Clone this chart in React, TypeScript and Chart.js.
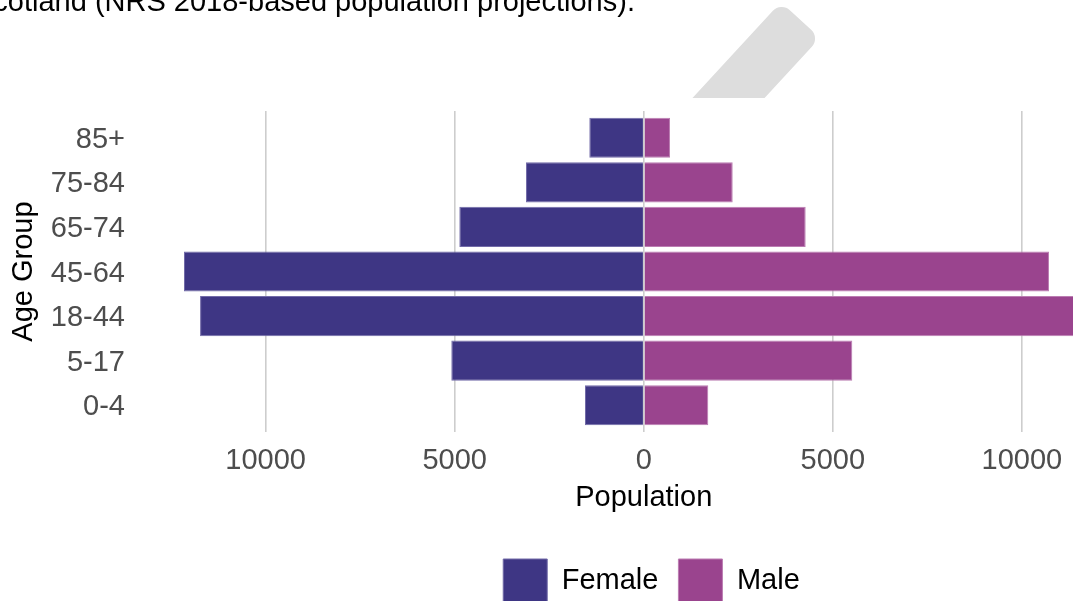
import React, { useEffect, useRef } from "react";
import { Chart, registerables } from "chart.js";

Chart.register(...registerables);

// ---- data ----
const ageGroups = ["0-4", "5-17", "18-44", "45-64", "65-74", "75-84", "85+"];
const femaleValues = [1554, 5090, 11735, 12160, 4878, 3114, 1440];
const maleValues = [1707, 5516, 11600, 10718, 4283, 2353, 694];
const seriesNames = ["Female", "Male"];
const xTickValues = [-10000, -5000, 0, 5000, 10000];
const xAxisLabel = "Population";
const yAxisLabel = "Age Group";
const titleText = "Scotland (NRS 2018-based population projections).";

const FEMALE_COLOR = "#3E3684";
const MALE_COLOR = "#9A448E";
const FONT = "'Liberation Sans', Arial, Helvetica, sans-serif";

export default function App() {
  const canvasRef = useRef<HTMLCanvasElement | null>(null);

  useEffect(() => {
    const canvas = canvasRef.current;
    if (!canvas) return;
    Chart.defaults.font.family = FONT;
    const chart = new Chart(canvas, {
      type: "bar",
      data: {
        labels: ageGroups,
        datasets: [
          {
            label: seriesNames[0],
            data: femaleValues.map((v) => -v),
            backgroundColor: FEMALE_COLOR,
            borderColor: "#726BA8",
            borderWidth: 1,
          },
          {
            label: seriesNames[1],
            data: maleValues,
            backgroundColor: MALE_COLOR,
            borderColor: "#BB7DB2",
            borderWidth: 1,
          },
        ],
      },
      options: {
        indexAxis: "y",
        animation: false,
        responsive: false,
        maintainAspectRatio: false,
        layout: { padding: { top: 111, left: 0, right: 0, bottom: 0 } },
        datasets: { bar: { categoryPercentage: 1, barPercentage: 0.9 } },
        scales: {
          x: {
            type: "linear",
            stacked: true,
            min: -13350,
            max: 13350,
            grid: { color: "#CDCDCD", lineWidth: 1.6, drawTicks: false },
            border: { display: false },
            ticks: {
              padding: 12,
              color: "#4D4D4D",
              font: { size: 29 },
              maxRotation: 0,
              autoSkip: false,
              callback: (v: any) => String(Math.abs(Number(v))),
            },
            afterBuildTicks: (s: any) => {
              s.ticks = xTickValues.map((value) => ({ value }));
            },
            title: {
              display: true,
              text: xAxisLabel,
              color: "#000000",
              font: { size: 29 },
              padding: { top: -10, bottom: 23.4 },
            },
          },
          y: {
            type: "category",
            stacked: true,
            reverse: true,
            grid: { display: false, drawTicks: false },
            border: { display: false },
            ticks: { padding: 14, labelOffset: 2, color: "#4D4D4D", font: { size: 29 } },
            title: {
              display: true,
              text: yAxisLabel,
              color: "#000000",
              font: { size: 29 },
              padding: { top: 7, bottom: 0 },
            },
            afterFit: (s: any) => {
              s.width = 139;
            },
            afterBuildTicks: (s: any) => {
              s._startValue = -0.6;
              s._valueRange = ageGroups.length - 1 + 1.2;
            },
          },
          y2: {
            type: "category",
            position: "right",
            display: true,
            grid: { display: false, drawTicks: false },
            border: { display: false },
            ticks: { display: false },
            afterFit: (s: any) => {
              s.width = 154.5;
            },
          },
        },
        plugins: {
          legend: {
            position: "bottom",
            labels: {
              boxWidth: 44,
              boxHeight: 44,
              padding: 20,
              color: "#000000",
              font: { size: 29 },
            },
          },
          tooltip: { enabled: false },
        },
      } as any,
    });
    return () => chart.destroy();
  }, []);

  return (
    <div
      style={{
        position: "absolute",
        left: 0,
        top: 0,
        width: 1073,
        height: 601,
        overflow: "hidden",
        background: "#ffffff",
      }}
    >
      <canvas
        ref={canvasRef}
        width={1303}
        height={613}
        style={{ position: "absolute", left: 0, top: 0, width: 1303, height: 613 }}
      />
      <div
        style={{
          position: "absolute",
          left: -26,
          top: -13.5,
          fontFamily: FONT,
          fontSize: 29,
          lineHeight: "29px",
          color: "#000000",
          whiteSpace: "nowrap",
        }}
      >
        {titleText}
      </div>
      <div
        style={{
          position: "absolute",
          left: 0,
          top: 0,
          width: 1073,
          height: 98,
          overflow: "hidden",
          pointerEvents: "none",
        }}
      >
        <div
          style={{
            position: "absolute",
            left: 774.4,
            top: 20,
            width: 53,
            height: 160,
            background: "#DDDDDD",
            borderRadius: "12px 12px 0 0",
            transformOrigin: "50% 0",
            transform: "rotate(42.7deg)",
          }}
        />
      </div>
    </div>
  );
}
